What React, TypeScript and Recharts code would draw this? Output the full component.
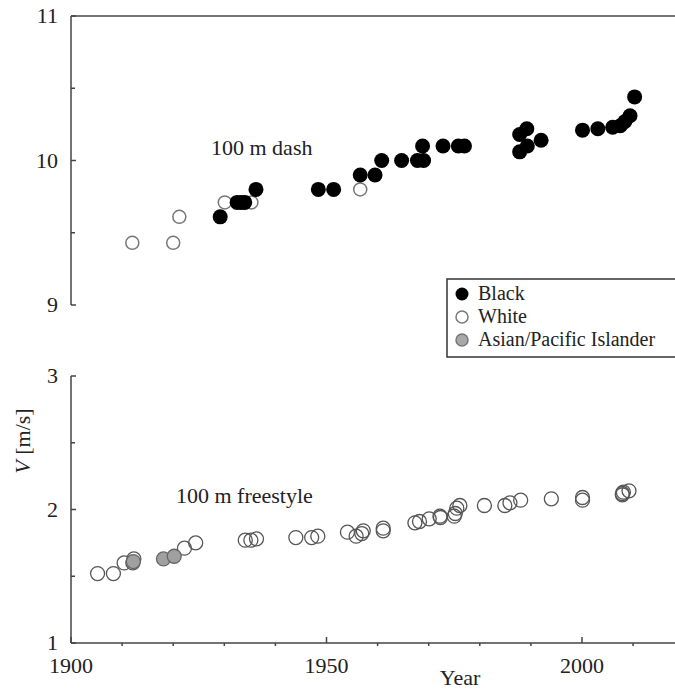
import React from 'react';
import { ScatterChart, Scatter, XAxis, YAxis, ReferenceLine } from 'recharts';

// [year, speed m/s]
const dashBlack = [
  [1929.2, 9.61], [1932.5, 9.71], [1933.3, 9.71], [1934.0, 9.71], [1936.2, 9.8],
  [1948.4, 9.8], [1951.4, 9.8], [1956.6, 9.9], [1959.5, 9.9], [1960.8, 10.0],
  [1964.7, 10.0], [1967.8, 10.0], [1969.0, 10.0], [1968.8, 10.1], [1972.8, 10.1],
  [1975.8, 10.1], [1977.0, 10.1], [1987.8, 10.06], [1989.3, 10.1], [1987.8, 10.18],
  [1989.2, 10.22], [1992.0, 10.14], [2000.1, 10.21], [2003.1, 10.22], [2006.0, 10.23],
  [2007.5, 10.24], [2008.4, 10.27], [2009.4, 10.31], [2010.3, 10.44],
];
const dashWhite = [
  [1912.0, 9.43], [1920.0, 9.43], [1921.2, 9.61], [1930.1, 9.71], [1935.3, 9.71], [1956.6, 9.8],
];
const swimWhite = [
  [1905.2, 1.52], [1908.3, 1.52], [1910.4, 1.6], [1912.1, 1.6], [1912.3, 1.63],
  [1922.2, 1.71], [1924.4, 1.75], [1934.1, 1.77], [1935.2, 1.77], [1936.3, 1.78],
  [1944.0, 1.79], [1947.1, 1.79], [1948.3, 1.8], [1954.1, 1.83], [1955.8, 1.8],
  [1956.9, 1.82], [1957.2, 1.84], [1961.1, 1.86], [1961.1, 1.84], [1967.3, 1.9],
  [1968.2, 1.91], [1970.1, 1.93], [1972.2, 1.95], [1972.3, 1.94], [1975.0, 1.95],
  [1975.2, 1.97], [1975.5, 2.01], [1976.1, 2.03], [1980.9, 2.03], [1984.9, 2.03],
  [1985.9, 2.05], [1988.0, 2.07], [1994.0, 2.08], [2000.1, 2.09], [2000.1, 2.07],
  [2007.9, 2.12], [2008.1, 2.13], [2009.2, 2.14], [2007.9, 2.11],
];
const swimAsian = [[1912.2, 1.61], [1918.1, 1.63], [1920.2, 1.65]];

const yearTicks = [1900, 1910, 1920, 1930, 1940, 1950, 1960, 1970, 1980, 1990, 2000, 2010];
const yearLabels = [1900, 1950, 2000];
const dashTicks = [9, 9.5, 10, 10.5, 11];
const swimTicks = [1, 1.5, 2, 2.5, 3];

const FONT = '"Liberation Serif", "DejaVu Serif", serif';
const AXIS = '#444';
const X_DOMAIN: [number, number] = [1900, 2018.2];

const toPts = (arr: number[][]) => arr.map(([year, v]) => ({ year, v }));

const YTick = (props: any) => {
  const { x, y, payload } = props;
  const major = Number.isInteger(payload.value);
  return (
    <g>
      <line x1={x} x2={x + (major ? 5 : 4)} y1={y} y2={y} stroke={AXIS} strokeWidth={1.5} />
      {major && (
        <text x={x - 13} y={y + 7} textAnchor="end" fontFamily={FONT} fontSize={22} fill="#222">
          {payload.value}
        </text>
      )}
    </g>
  );
};

const XTick = (props: any) => {
  const { x, y, payload } = props;
  const major = yearLabels.includes(payload.value);
  return (
    <g>
      <line x1={x} x2={x} y1={y} y2={major ? y - 6 : y + 3} stroke={AXIS} strokeWidth={1.5} />
      {major && (
        <text x={x} y={y + 30} textAnchor="middle" fontFamily={FONT} fontSize={22} fill="#222">
          {payload.value}
        </text>
      )}
    </g>
  );
};

const dot = (r: number, fill: string, stroke: string, sw = 1.5) => (p: any) => (
  <circle cx={p.cx} cy={p.cy} r={r} fill={fill} stroke={stroke} strokeWidth={sw} />
);

export default function App() {
  return (
    <div style={{ position: 'absolute', left: 0, top: 0, width: 675, height: 689, overflow: 'hidden', background: '#fff' }}>
      <div style={{ position: 'absolute', left: 0, top: 0 }}>
        <ScatterChart width={675} height={360} margin={{ top: 16, right: 0, bottom: 55, left: 0 }}>
          <XAxis type="number" dataKey="year" domain={X_DOMAIN} allowDataOverflow hide />
          <YAxis
            type="number"
            dataKey="v"
            domain={[9, 11]}
            ticks={dashTicks}
            interval={0}
            width={71}
            allowDataOverflow
            tickLine={false}
            tickSize={0}
            tickMargin={0}
            axisLine={{ stroke: AXIS, strokeWidth: 1.5 }}
            tick={<YTick />}
          />
          <ReferenceLine y={11} stroke={AXIS} strokeWidth={1.5} />
          <Scatter data={toPts(dashWhite)} isAnimationActive={false} shape={dot(6.5, '#fff', '#777')} />
          <Scatter data={toPts(dashBlack)} isAnimationActive={false} shape={dot(7.5, '#000', '#000', 0)} />
        </ScatterChart>
      </div>
      <div style={{ position: 'absolute', left: 0, top: 360 }}>
        <ScatterChart width={675} height={329} margin={{ top: 16, right: 0, bottom: 0, left: 0 }}>
          <XAxis
            type="number"
            dataKey="year"
            domain={X_DOMAIN}
            ticks={yearTicks}
            interval={0}
            height={46}
            allowDataOverflow
            tickLine={false}
            tickSize={0}
            tickMargin={0}
            axisLine={{ stroke: AXIS, strokeWidth: 1.5 }}
            tick={<XTick />}
          />
          <YAxis
            type="number"
            dataKey="v"
            domain={[1, 3]}
            ticks={swimTicks}
            interval={0}
            width={71}
            allowDataOverflow
            tickLine={false}
            tickSize={0}
            tickMargin={0}
            axisLine={{ stroke: AXIS, strokeWidth: 1.5 }}
            tick={<YTick />}
          />
          <Scatter data={toPts(swimWhite)} isAnimationActive={false} shape={dot(7, 'none', '#555', 1.3)} />
          <Scatter data={toPts(swimAsian)} isAnimationActive={false} shape={dot(7, '#a0a0a0', '#666', 1.3)} />
        </ScatterChart>
      </div>
      <svg width={675} height={689} style={{ position: 'absolute', left: 0, top: 0, pointerEvents: 'none' }}>
        <g fontFamily={FONT} fontSize={22} fill="#222">
          <text x={211} y={155}>100 m dash</text>
          <text x={176} y={503}>100 m freestyle</text>
          <text x={460} y={685} textAnchor="middle">Year</text>
          <text transform="translate(30, 441) rotate(-90)" textAnchor="middle">
            <tspan fontStyle="italic">V</tspan> [m/s]
          </text>
        </g>
        <rect x={447} y={279} width={240} height={78} fill="#fff" stroke="#333" strokeWidth={1.5} />
        <circle cx={462} cy={294} r={6.5} fill="#000" />
        <circle cx={462} cy={317} r={6} fill="#fff" stroke="#777" strokeWidth={1.5} />
        <circle cx={462} cy={340} r={6} fill="#a8a8a8" stroke="#777" strokeWidth={1.5} />
        <g fontFamily={FONT} fontSize={20} fill="#222">
          <text x={478} y={300}>Black</text>
          <text x={478} y={323}>White</text>
          <text x={478} y={346}>Asian/Pacific Islander</text>
        </g>
      </svg>
    </div>
  );
}
